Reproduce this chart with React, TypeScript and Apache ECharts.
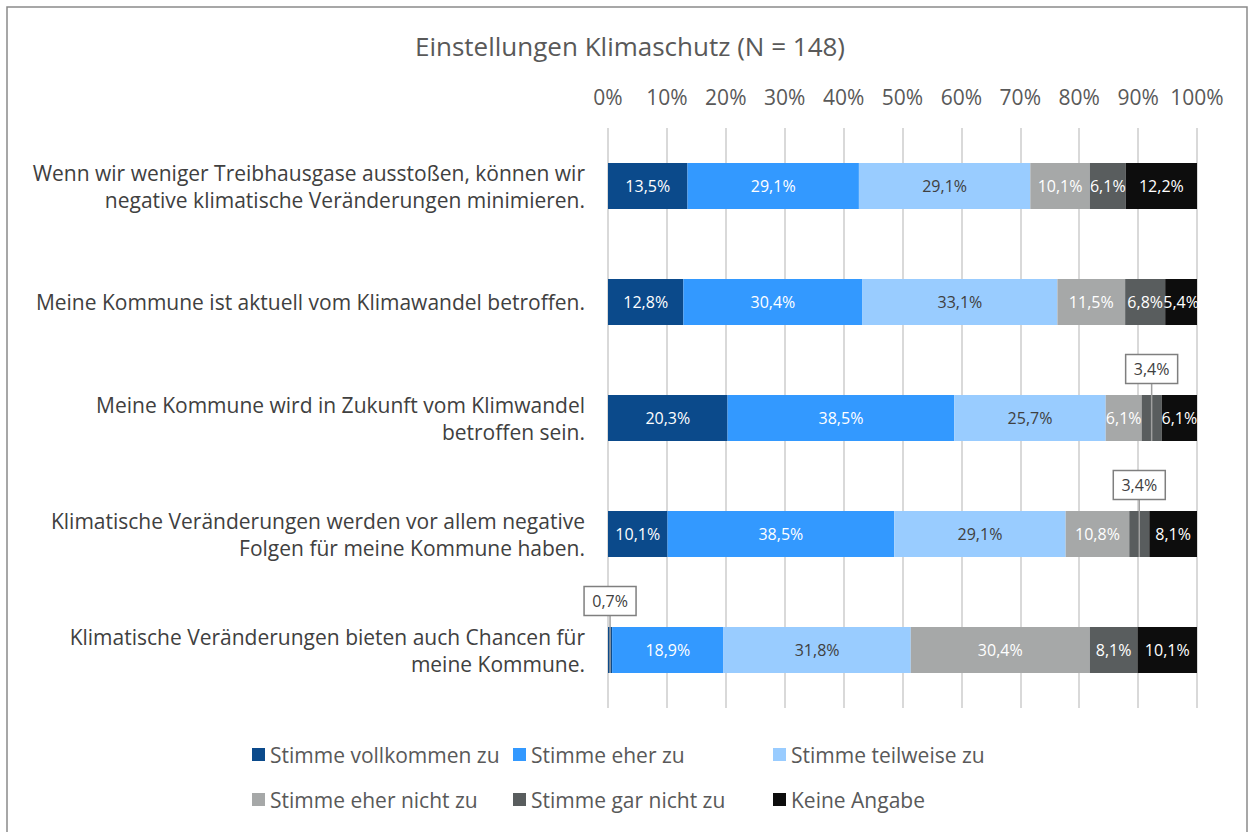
import React, { useEffect, useRef } from "react";
import * as echarts from "echarts";

const categories = [
  "Wenn wir weniger Treibhausgase ausstoßen, können wir\nnegative klimatische Veränderungen minimieren.",
  "Meine Kommune ist aktuell vom Klimawandel betroffen.",
  "Meine Kommune wird in Zukunft vom Klimwandel\nbetroffen sein.",
  "Klimatische Veränderungen werden vor allem negative\nFolgen für meine Kommune haben.",
  "Klimatische Veränderungen bieten auch Chancen für\nmeine Kommune.",
];

const seriesNames = [
  "Stimme vollkommen zu",
  "Stimme eher zu",
  "Stimme teilweise zu",
  "Stimme eher nicht zu",
  "Stimme gar nicht zu",
  "Keine Angabe",
];

const vollkommen = [13.5, 12.8, 20.3, 10.1, 0.7];
const eherZu = [29.1, 30.4, 38.5, 38.5, 18.9];
const teilweise = [29.1, 33.1, 25.7, 29.1, 31.8];
const eherNicht = [10.1, 11.5, 6.1, 10.8, 30.4];
const garNicht = [6.1, 6.8, 3.4, 3.4, 8.1];
const keineAngabe = [12.2, 5.4, 6.1, 8.1, 10.1];

const tickValues = [0, 10, 20, 30, 40, 50, 60, 70, 80, 90, 100];

// [seriesIndex, categoryIndex] of segments labelled with a callout box
const callouts: [number, number][] = [
  [4, 2],
  [4, 3],
  [0, 4],
];

const colors = ["#0b4a8b", "#3399ff", "#99ccff", "#a6a8a8", "#595d5e", "#0d0d0d"];
const labelColors = ["#ffffff", "#ffffff", "#404040", "#ffffff", "#ffffff", "#ffffff"];

const fmt = (v: number) => v.toFixed(1).replace(".", ",") + "%";

export default function App() {
  const ref = useRef<HTMLDivElement>(null);
  useEffect(() => {
    if (!ref.current) return;
    const chart = echarts.init(ref.current, undefined, { renderer: "svg" });
    const values = [vollkommen, eherZu, teilweise, eherNicht, garNicht, keineAngabe];
    const font = "'Open Sans', 'Noto Sans', sans-serif";

    const barSeries = values.map((arr, si) => ({
      name: seriesNames[si],
      type: "bar",
      stack: "total",
      barWidth: 46,
      itemStyle: { color: colors[si] },
      label: {
        show: true,
        position: "inside",
        color: labelColors[si],
        fontFamily: font,
        fontSize: 16,
        formatter: (p: any) => fmt(p.value),
      },
      emphasis: { disabled: true },
      data: arr.map((v, ci) => {
        const isCallout = callouts.some(([s, c]) => s === si && c === ci);
        return isCallout ? { value: v, label: { show: false } } : v;
      }),
    }));

    const calloutData = callouts.map(([si, ci]) => {
      let start = 0;
      for (let k = 0; k < si; k++) start += values[k][ci];
      return [start, values[si][ci], ci];
    });

    const calloutSeries = {
      type: "custom",
      silent: true,
      z: 10,
      data: calloutData,
      renderItem: (params: any, api: any) => {
        const start = api.value(0);
        const val = api.value(1);
        const ci = api.value(2);
        const pt = api.coord([start + val / 2, ci]);
        const cx = pt[0];
        const cy = pt[1];
        const boxCy = cy - 49;
        const w = 52;
        const h = 29;
        return {
          type: "group",
          children: [
            {
              type: "line",
              shape: { x1: cx, y1: boxCy + h / 2, x2: cx, y2: cy + 23 },
              style: { stroke: "#a0a0a0", lineWidth: 1.5 },
            },
            {
              type: "rect",
              shape: { x: cx - w / 2, y: boxCy - h / 2, width: w, height: h },
              style: { fill: "#ffffff", stroke: "#7f7f7f", lineWidth: 1.5 },
            },
            {
              type: "text",
              x: cx,
              y: boxCy,
              style: {
                text: fmt(val),
                fill: "#404040",
                font: "16px " + font,
                align: "center",
                verticalAlign: "middle",
              },
            },
          ],
        };
      },
    };

    const legendText = { color: "#595959", fontSize: 21, fontFamily: font };
    const mkLegend = (left: number, names: string[]) => ({
      orient: "vertical",
      left,
      top: 739,
      itemWidth: 13,
      itemHeight: 13,
      itemGap: 24,
      icon: "rect",
      textStyle: legendText,
      selectedMode: false,
      data: names,
    });

    chart.setOption({
      animation: false,
      color: colors,
      title: {
        text: "Einstellungen Klimaschutz (N = 148)",
        left: 410,
        top: 28,
        textStyle: { color: "#595959", fontSize: 26, fontWeight: "normal", fontFamily: font },
      },
      graphic: [
        {
          type: "rect",
          shape: { x: 7, y: 7, width: 1240, height: 850 },
          style: { fill: "none", stroke: "#8a8a8a", lineWidth: 1.5 },
          silent: true,
        },
      ],
      legend: [
        mkLegend(247, [seriesNames[0], seriesNames[3]]),
        mkLegend(508, [seriesNames[1], seriesNames[4]]),
        mkLegend(768, [seriesNames[2], seriesNames[5]]),
      ],
      grid: { left: 608, right: 53, top: 128, bottom: 124, containLabel: false },
      xAxis: {
        type: "value",
        position: "top",
        min: tickValues[0],
        max: tickValues[tickValues.length - 1],
        interval: 10,
        axisLine: { show: false },
        axisTick: { show: false },
        axisLabel: {
          margin: 21,
          color: "#595959",
          fontSize: 21,
          fontFamily: font,
          formatter: (v: number) => v + "%",
        },
        splitLine: { show: true, lineStyle: { color: "#d9d9d9", width: 2 } },
      },
      yAxis: {
        type: "category",
        inverse: true,
        data: categories,
        axisLine: { show: false },
        axisTick: { show: false },
        axisLabel: {
          margin: 23,
          color: "#404040",
          fontSize: 21,
          lineHeight: 27,
          fontFamily: font,
          align: "right",
        },
      },
      series: [...barSeries, calloutSeries],
    });
    return () => chart.dispose();
  }, []);

  return (
    <div
      ref={ref}
      style={{ position: "fixed", left: 0, top: 0, width: 1250, height: 832, background: "#ffffff" }}
    />
  );
}
